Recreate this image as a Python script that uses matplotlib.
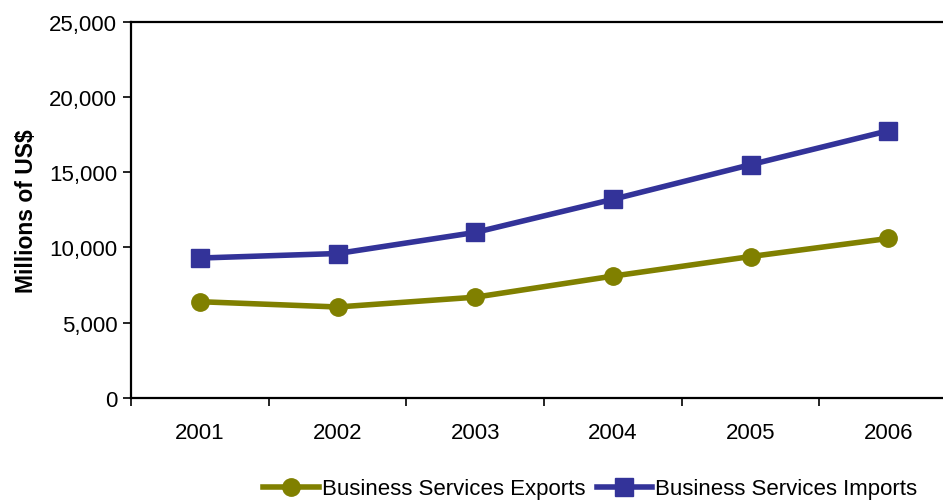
import numpy as np
import matplotlib.pyplot as plt
from matplotlib.ticker import FuncFormatter

plt.rcParams['font.family'] = ['Liberation Sans', 'DejaVu Sans']

# Business services trade, millions of US$
years = ['2001', '2002', '2003', '2004', '2005', '2006']
exports = [6400, 6050, 6700, 8100, 9400, 10600]
imports = [9300, 9600, 11000, 13200, 15500, 17750]

x = np.arange(len(years))

fig = plt.figure(figsize=(9.43, 5.02), dpi=100)
ax = fig.add_axes([0.139, 0.205, 0.876, 0.75])

ax.plot(x, exports, color='#808000', lw=4, marker='o', markersize=12.5,
        label='Business Services Exports')
ax.plot(x, imports, color='#333399', lw=4, marker='s', markersize=12.5,
        label='Business Services Imports')

ax.set_xlim(-0.5, len(years) - 0.5)
ax.set_ylim(0, 25000)
ax.set_yticks(np.arange(0, 25001, 5000))
ax.yaxis.set_major_formatter(FuncFormatter(lambda v, p: f'{int(v):,}'))

# category labels without marks, tick marks on the category boundaries
ax.set_xticks(x)
ax.set_xticklabels(years)
ax.set_xticks(np.arange(-0.5, len(years)), minor=True)
ax.tick_params(axis='x', which='major', length=0, pad=17, labelsize=16)
ax.tick_params(axis='x', which='minor', length=6, width=1.2)
ax.tick_params(axis='y', length=6, width=1.2, labelsize=16, pad=4)

for s in ['left', 'bottom', 'top']:
    ax.spines[s].set_linewidth(1.6)
ax.spines['right'].set_visible(False)

ax.set_ylabel('Millions of US$', fontsize=16.5, fontweight='bold', labelpad=8)

fig.legend(loc='center', bbox_to_anchor=(0.626, 0.024), ncol=2, frameon=False,
           fontsize=16, handlelength=2.5, handletextpad=0.15, columnspacing=0.5,
           borderaxespad=0)

fig.savefig('out.png', dpi=100)
